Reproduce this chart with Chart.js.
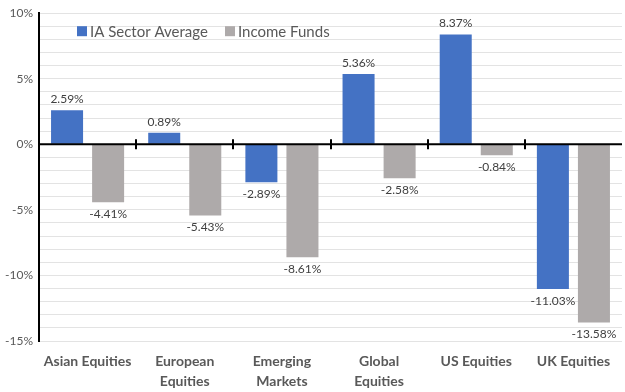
<!DOCTYPE html>
<html>
<head>
<meta charset="utf-8">
<script src="https://cdn.jsdelivr.net/npm/chart.js@4"></script>
<style>
  html, body { margin: 0; padding: 0; background: #fff; }
  #wrap { width: 625px; height: 392px; position: relative; }
</style>
</head>
<body>
<div id="wrap"><canvas id="barChart"></canvas></div>
<script>
var categories = [['Asian Equities'], ['European', 'Equities'], ['Emerging', 'Markets'], ['Global', 'Equities'], ['US Equities'], ['UK Equities']];
var sectorAverage = [2.59, 0.89, -2.89, 5.36, 8.37, -11.03];
var incomeFunds = [-4.41, -5.43, -8.61, -2.58, -0.84, -13.58];
var yTicks = [-15, -10, -5, 0, 5, 10];

// value labels above / below each bar
var valueLabels = {
    id: 'valueLabels',
    afterDatasetsDraw: function (chart) {
        var ctx = chart.ctx;
        ctx.save();
        ctx.font = '12px Lato, sans-serif';
        ctx.fillStyle = '#404040';
        ctx.textAlign = 'center';
        chart.data.datasets.forEach(function (ds, i) {
            chart.getDatasetMeta(i).data.forEach(function (bar, j) {
                var v = ds.data[j];
                if (v >= 0) {
                    ctx.textBaseline = 'bottom';
                    ctx.fillText(v.toFixed(2) + '%', bar.x, bar.y - 5);
                } else {
                    ctx.textBaseline = 'top';
                    ctx.fillText(v.toFixed(2) + '%', bar.x, bar.y + 6);
                }
            });
        });
        ctx.restore();
    }
};

// zero line with tick marks between categories
var zeroAxis = {
    id: 'zeroAxis',
    afterDatasetsDraw: function (chart) {
        var ctx = chart.ctx;
        var x = chart.scales.x, y = chart.scales.y;
        var y0 = y.getPixelForValue(0);
        ctx.save();
        ctx.strokeStyle = '#000';
        ctx.lineWidth = 2;
        ctx.beginPath();
        ctx.moveTo(chart.chartArea.left, y0);
        ctx.lineTo(chart.chartArea.right, y0);
        for (var i = 1; i < categories.length; i++) {
            var px = Math.round((x.getPixelForValue(i - 1) + x.getPixelForValue(i)) / 2);
            ctx.moveTo(px, y0 - 5);
            ctx.lineTo(px, y0 + 5);
        }
        ctx.stroke();
        ctx.restore();
    }
};

// legend in one row inside the plot, top left
var insideLegend = {
    id: 'insideLegend',
    afterDraw: function (chart) {
        var ctx = chart.ctx;
        var x = chart.chartArea.left + 38;
        var y = chart.chartArea.top + 18;
        ctx.save();
        ctx.font = '15px Lato, sans-serif';
        ctx.textBaseline = 'middle';
        ctx.textAlign = 'left';
        chart.data.datasets.forEach(function (ds) {
            ctx.fillStyle = ds.backgroundColor;
            ctx.fillRect(x, y - 5, 10, 10);
            ctx.fillStyle = '#595959';
            ctx.fillText(ds.label, x + 13, y + 1);
            x += 148;
        });
        ctx.restore();
    }
};

new Chart(document.getElementById('barChart').getContext('2d'), {
    type: 'bar',
    data: {
        labels: categories,
        datasets: [
            {
                label: 'IA Sector Average',
                backgroundColor: '#4472C4',
                data: sectorAverage
            },
            {
                label: 'Income Funds',
                backgroundColor: '#AEAAAA',
                data: incomeFunds
            }
        ]
    },
    options: {
        responsive: true,
        maintainAspectRatio: false,
        animation: false,
        categoryPercentage: 0.845,
        barPercentage: 0.78,
        layout: { padding: { top: 11, right: 3, bottom: 0, left: 0 } },
        plugins: {
            legend: { display: false },
            tooltip: { enabled: false }
        },
        scales: {
            x: {
                grid: { display: false },
                border: { display: false },
                ticks: {
                    color: '#595959',
                    maxRotation: 0,
                    autoSkip: false,
                    padding: 3,
                    font: { family: 'Lato, sans-serif', size: 14, weight: 'bold', lineHeight: 1.4 }
                },
                afterFit: function (scale) { scale.height = 51; }
            },
            y: {
                min: -15,
                max: 10,
                ticks: {
                    stepSize: 1,
                    autoSkip: false,
                    color: '#595959',
                    padding: 6,
                    font: { family: 'Lato, sans-serif', size: 12 },
                    callback: function (v) { return yTicks.indexOf(v) >= 0 ? v + '%' : ''; }
                },
                grid: { color: '#e3e3e3', drawTicks: false },
                border: { display: true, color: '#000', width: 2 },
                afterFit: function (scale) { scale.width = 39; }
            }
        }
    },
    plugins: [valueLabels, zeroAxis, insideLegend]
});
</script>
</body>
</html>
